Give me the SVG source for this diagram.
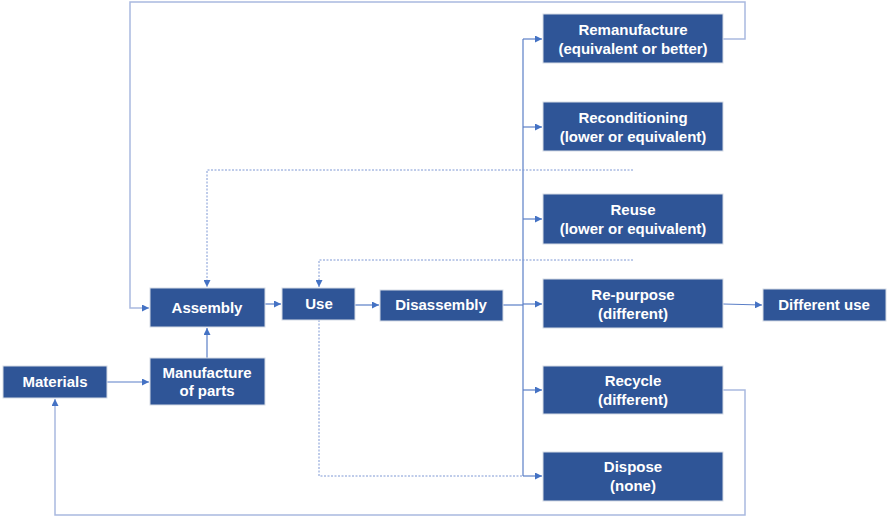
<svg xmlns="http://www.w3.org/2000/svg" width="887" height="518" viewBox="0 0 887 518">
<style>
.box{fill:#2F5597;stroke:#D6DCE5;stroke-width:1}
.t{fill:#fff;font-family:"Liberation Sans",Arial,sans-serif;font-weight:bold;font-size:15px;text-anchor:middle}
.c{fill:none;stroke:#5B7FC7;stroke-width:1.2}
.l{fill:none;stroke:#A9B9E0;stroke-width:1.5}
.d{fill:none;stroke:#7F98D4;stroke-width:1;stroke-dasharray:2 1.5}
</style>
<defs>
<marker id="a" viewBox="0 0 10 10" refX="10" refY="5" markerWidth="7" markerHeight="7" markerUnits="userSpaceOnUse" orient="auto">
<path d="M0,0 L10,5 L0,10 z" fill="#4472C4"/>
</marker>
</defs>
<g id="connectors">
<line class="c" x1="107" y1="382" x2="149" y2="382" marker-end="url(#a)"/>
<line class="c" x1="207" y1="358" x2="207" y2="328" marker-end="url(#a)"/>
<line class="c" x1="265" y1="304" x2="281" y2="304" marker-end="url(#a)"/>
<line class="c" x1="355" y1="305" x2="379" y2="305" marker-end="url(#a)"/>
<polyline class="c" points="503,305 523,305"/>
<line class="c" x1="523" y1="39" x2="523" y2="476"/>
<line class="c" x1="523" y1="39" x2="542" y2="39" marker-end="url(#a)"/>
<line class="c" x1="523" y1="127" x2="542" y2="127" marker-end="url(#a)"/>
<line class="c" x1="523" y1="219" x2="542" y2="219" marker-end="url(#a)"/>
<line class="c" x1="523" y1="304" x2="542" y2="304" marker-end="url(#a)"/>
<line class="c" x1="523" y1="390" x2="542" y2="390" marker-end="url(#a)"/>
<line class="c" x1="523" y1="476" x2="542" y2="476" marker-end="url(#a)"/>
<line class="c" x1="723" y1="304" x2="762" y2="305" marker-end="url(#a)"/>
<polyline class="l" points="723,39 745,39 745,2 130,2 130,308 149,308" marker-end="url(#a)"/>
<polyline class="l" points="723,390 745,390 745,515 55,515 55,399" marker-end="url(#a)"/>
<polyline class="d" points="633,170 207,170 207,287" marker-end="url(#a)"/>
<polyline class="d" points="633,260 319,260 319,287" marker-end="url(#a)"/>
<polyline class="d" points="319,320 319,476 523,476"/>
</g>
<g id="materials"><rect class="box" x="3" y="366" width="104" height="32"/><text class="t" x="55" y="387">Materials</text></g>
<g id="manufacture"><rect class="box" x="150" y="358" width="115" height="47"/><text class="t" x="207" y="378">Manufacture</text><text class="t" x="207" y="396">of parts</text></g>
<g id="assembly"><rect class="box" x="150" y="288" width="115" height="39"/><text class="t" x="207" y="313">Assembly</text></g>
<g id="use"><rect class="box" x="282" y="288" width="73" height="32"/><text class="t" x="319" y="309">Use</text></g>
<g id="disassembly"><rect class="box" x="380" y="290" width="123" height="31"/><text class="t" x="441" y="310">Disassembly</text></g>
<g id="remanufacture"><rect class="box" x="543" y="14" width="180" height="49"/><text class="t" x="633" y="35">Remanufacture</text><text class="t" x="633" y="54">(equivalent or better)</text></g>
<g id="reconditioning"><rect class="box" x="543" y="102" width="180" height="49"/><text class="t" x="633" y="123">Reconditioning</text><text class="t" x="633" y="142">(lower or equivalent)</text></g>
<g id="reuse"><rect class="box" x="543" y="194" width="180" height="50"/><text class="t" x="633" y="215">Reuse</text><text class="t" x="633" y="234">(lower or equivalent)</text></g>
<g id="repurpose"><rect class="box" x="543" y="279" width="180" height="49"/><text class="t" x="633" y="300">Re-purpose</text><text class="t" x="633" y="319">(different)</text></g>
<g id="recycle"><rect class="box" x="543" y="366" width="180" height="48"/><text class="t" x="633" y="386">Recycle</text><text class="t" x="633" y="405">(different)</text></g>
<g id="dispose"><rect class="box" x="543" y="452" width="180" height="49"/><text class="t" x="633" y="472">Dispose</text><text class="t" x="633" y="491">(none)</text></g>
<g id="different-use"><rect class="box" x="763" y="289" width="123" height="32"/><text class="t" x="824" y="310">Different use</text></g>
</svg>
